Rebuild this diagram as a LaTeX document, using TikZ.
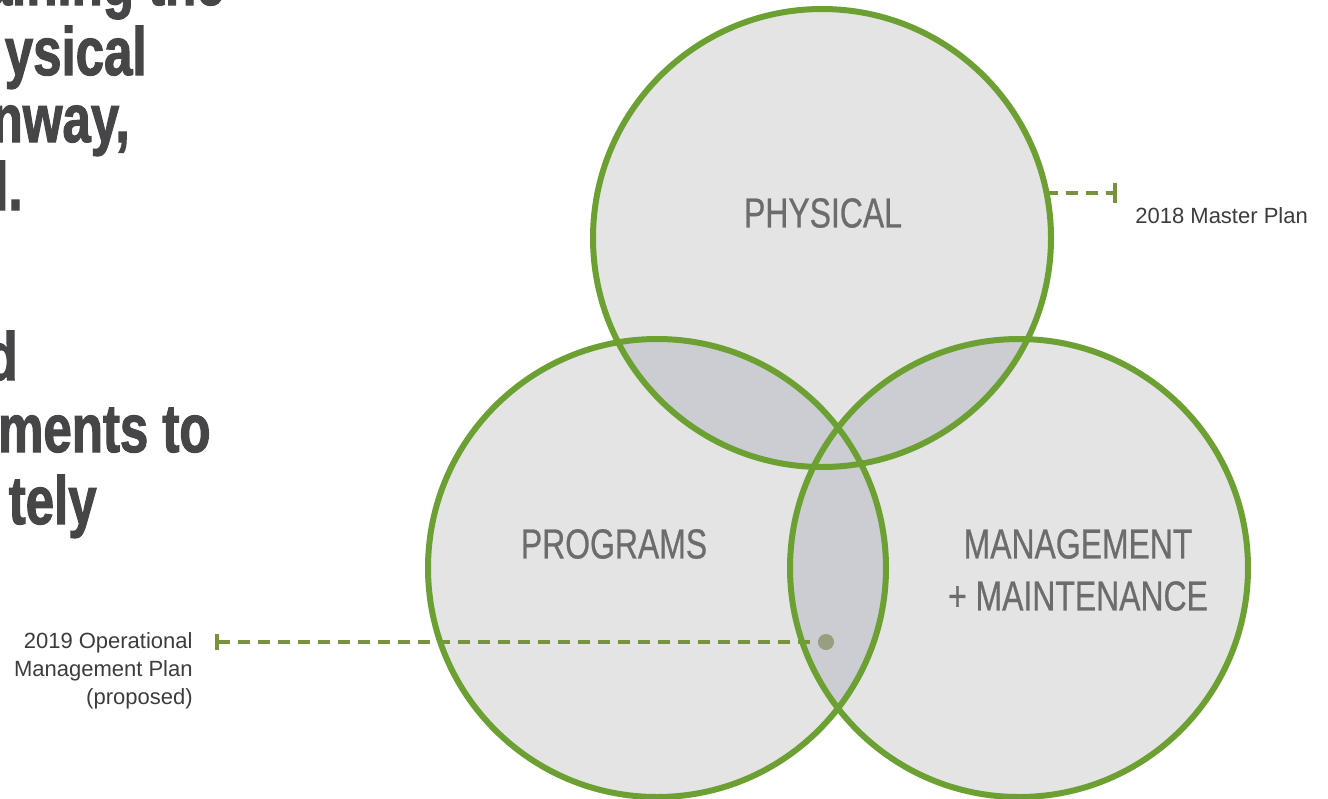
\documentclass[tikz,border=0pt]{standalone}
\usepackage{fontspec}
\usepackage{tikz}
\usetikzlibrary{arrows.meta}
\setmainfont{Liberation Sans}
\newfontfamily\headfont{Liberation Sans}[FakeStretch=0.75, BoldFeatures={FakeBold=1.6}]
\newfontfamily\vennfont{Liberation Sans}[FakeStretch=0.76, FakeBold=0.6]
\definecolor{pkgreen}{RGB}{108,160,50}
\definecolor{pkolive}{RGB}{120,146,62}
\definecolor{pkfill}{RGB}{228,228,228}
\definecolor{pklens}{RGB}{203,205,210}
\definecolor{pkhead}{RGB}{70,70,72}
\definecolor{pklabel}{RGB}{108,108,108}
\definecolor{pknote}{RGB}{60,60,60}
\definecolor{pkdot}{RGB}{150,160,128}

\begin{document}
\begin{tikzpicture}[x=0.5pt,y=-0.5pt,
  ring/.style={draw=pkgreen, line width=3pt},
  lead/.style={pkolive, line width=2pt, dash pattern=on 6pt off 4pt},
  head/.style={anchor=base east, inner sep=0pt, text=pkhead,
    font=\headfont\bfseries\fontsize{34}{40}\selectfont},
  venn/.style={text=pklabel, align=center, inner sep=0pt,
    font=\vennfont\fontsize{21}{26}\selectfont},
  note/.style={text=pknote, inner sep=0pt, font=\fontsize{11}{14}\selectfont}]
\useasboundingbox (0,0) rectangle (1328,798);
\clip (0,0) rectangle (1328,798);

% heading, cut off at the left edge
\node[head] (hdA) at (225,5) {aining the};
\node[head] (hdB) at (147,75) {ysical};
\node[head] (hdC) at (130,142) {nway,};
\node[head] (hdD) at (23,210) {l.};
\node[head] (hdE) at (18,380) {d};
\node[head] (hdF) at (211,452) {ments to};
\node[head] (hdG) at (97,524) {tely};

% the three circles
\def\rad{229}
\coordinate (physC) at (822,238);
\coordinate (progC) at (657,568);
\coordinate (mgmtC) at (1019,568);
\fill[pkfill] (physC) circle[radius=\rad] (progC) circle[radius=\rad]
  (mgmtC) circle[radius=\rad];
\begin{scope}
\clip (physC) circle[radius=\rad];
\fill[pklens] (progC) circle[radius=\rad] (mgmtC) circle[radius=\rad];
\end{scope}
\begin{scope}
\clip (progC) circle[radius=\rad];
\fill[pklens] (mgmtC) circle[radius=\rad];
\end{scope}

% leaders to the plans
\coordinate (mpStart) at (1046,193);
\coordinate (mpTick) at (1117,193);
\draw[lead, -{Bar[width=10pt]}] (mpStart) -- (mpTick);
\coordinate (omTick) at (215,642);
\coordinate (omDot) at (826,642);
\draw[lead, {Bar[width=8pt]}-] (omTick) -- (omDot);
\fill[pkdot] (omDot) circle[radius=8];

\draw[ring] (physC) circle[radius=\rad];
\draw[ring] (progC) circle[radius=\rad];
\draw[ring] (mgmtC) circle[radius=\rad];

\node[venn] (physLbl) at (823,213) {PHYSICAL};
\node[venn] (progLbl) at (614,544) {PROGRAMS};
\node[venn] (mgmtLbl) at (1078,570) {MANAGEMENT\\+ MAINTENANCE};

\node[note, anchor=base west] (mpNote) at (1135,223) {2018 Master Plan};
\node[note, anchor=north east, align=right] (omNote) at (193,632)
  {2019 Operational\\Management Plan\\(proposed)};
\end{tikzpicture}
\end{document}
